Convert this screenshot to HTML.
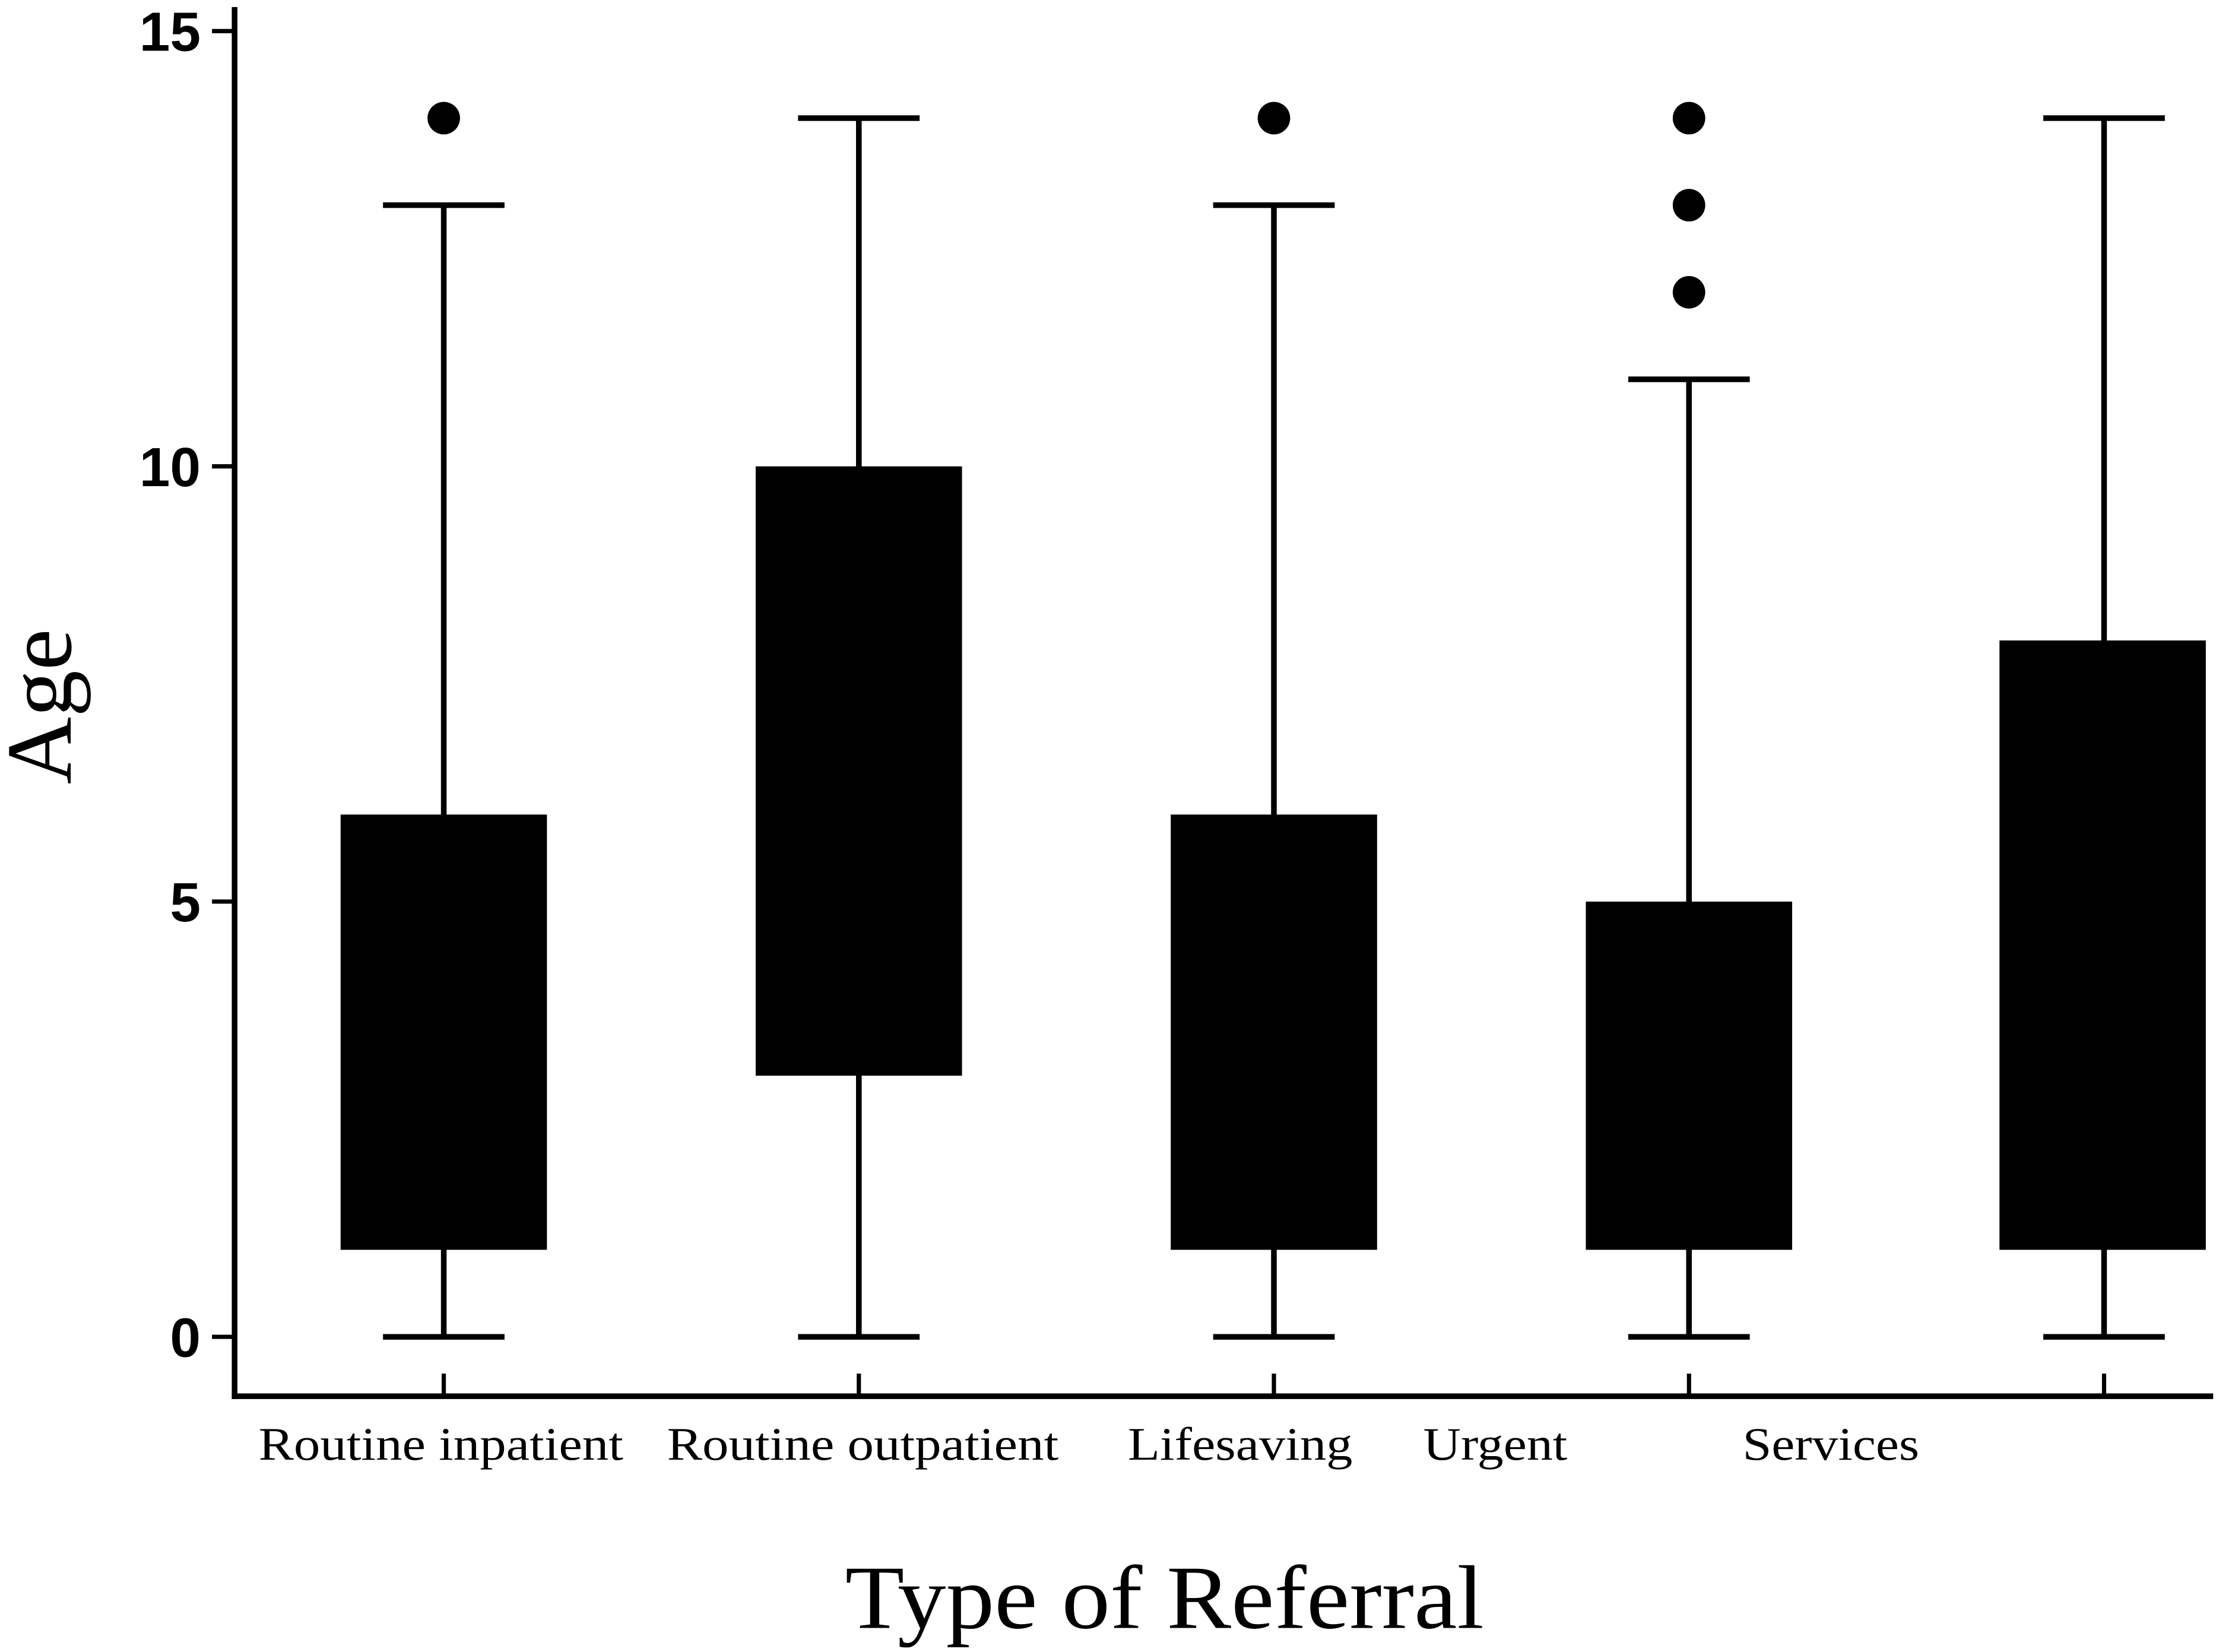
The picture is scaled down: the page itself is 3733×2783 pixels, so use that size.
<!DOCTYPE html>
<html><head><meta charset="utf-8"><style>html,body{margin:0;padding:0;background:#fff}svg{display:block}</style></head>
<body>
<svg id="chart" width="3733" height="2783" viewBox="0 0 1568 1169" preserveAspectRatio="none" xmlns="http://www.w3.org/2000/svg">
<g id="axes"></g>
<g id="marks"></g>
<text transform="translate(50,500) rotate(-90)" text-anchor="middle" font-family="Liberation Serif, serif" font-size="66">Age</text>
<text x="824" y="1152" text-anchor="middle" font-family="Liberation Serif, serif" font-size="64" textLength="452" lengthAdjust="spacingAndGlyphs">Type of Referral</text>
</svg>
<script>
const categories = ["Routine inpatient","Routine outpatient","Lifesaving","Urgent","Services"];
const q1 = [1, 3, 1, 1, 1];
const q3 = [6, 10, 6, 5, 8];
const whiskerLow = [0, 0, 0, 0, 0];
const whiskerHigh = [13, 14, 13, 11, 14];
const outliers = [[14], [], [14], [12, 13, 14], []];
const yTicks = [0, 5, 10, 15];
const labelX = [[183,441],[472,749],[798,957],[1007,1109],[1233,1358]];

const NS = "http://www.w3.org/2000/svg";
const y = v => 946 - v * 61.6;
const xc = i => 314 + i * 293.7;
const boxW = 146, capW = 86;
function el(tag, attrs, parent) { const e = document.createElementNS(NS, tag); for (const k in attrs) e.setAttribute(k, attrs[k]); parent.appendChild(e); return e; }
const axes = document.getElementById('axes');
const marks = document.getElementById('marks');

let a = el('line', {x1:166,y1:5,x2:166,y2:990,stroke:'#000','stroke-width':4}, axes);


a = el('line', {x1:164,y1:988,x2:1566,y2:988,stroke:'#000','stroke-width':4}, axes);



yTicks.forEach(t => {
  const tk = el('line', {x1:150,y1:y(t),x2:166,y2:y(t),stroke:'#000','stroke-width':3}, axes);
  
  
  const tl = el('text', {x:142,y:y(t)+14,'text-anchor':'end','font-family':'Liberation Sans, sans-serif','font-weight':'bold','font-size':39}, axes);
  tl.textContent = t;
  
  
});

categories.forEach((c, i) => {
  const x = xc(i);
  const tk = el('line', {x1:x,y1:972,x2:x,y2:988,stroke:'#000','stroke-width':3}, axes);
  
  
  const lx = labelX[i];
  const tl = el('text', {x:lx[0],y:1033,'font-family':'Liberation Serif, serif','font-size':33,textLength:lx[1]-lx[0],lengthAdjust:'spacingAndGlyphs'}, axes);
  tl.textContent = c;
  
  

  const wl = el('line', {x1:x,y1:y(whiskerHigh[i]),x2:x,y2:y(whiskerLow[i]),stroke:'#000','stroke-width':4}, marks);
  
  
  [whiskerHigh[i], whiskerLow[i]].forEach(v => {
    const cp = el('line', {x1:x-capW/2,y1:y(v),x2:x+capW/2,y2:y(v),stroke:'#000','stroke-width':4}, marks);
    
    
  });
  const b = el('rect', {x:x-boxW/2+(i===4?-1:0),y:y(q3[i]),width:boxW,height:y(q1[i])-y(q3[i]),fill:'#000'}, marks);
  
  
  outliers[i].forEach(v => {
    const o = el('circle', {cx:x,cy:y(v),r:11.5,fill:'#000'}, marks);
    
    
  });
});
</script>
</body></html>
